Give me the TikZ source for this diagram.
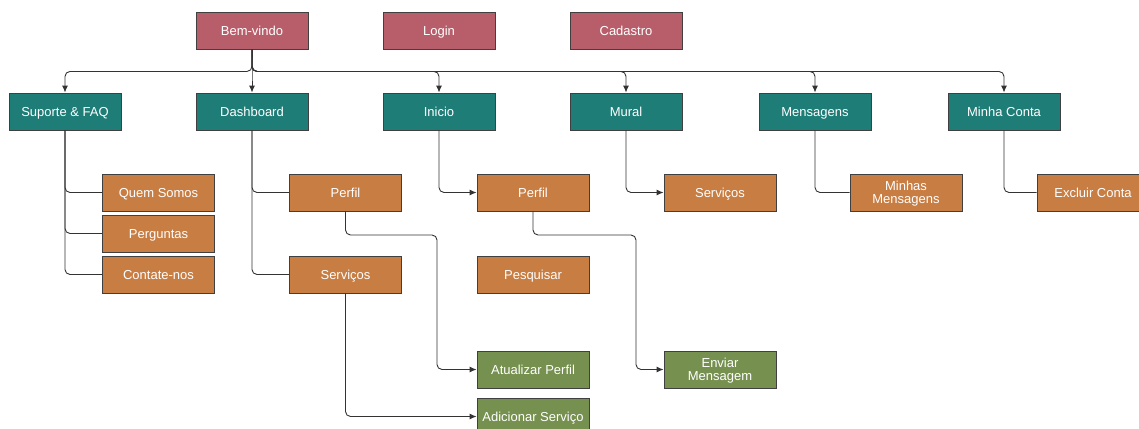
\documentclass[tikz,border=0pt]{standalone}
\usepackage{fontspec}
\setmainfont{Liberation Sans}
\usetikzlibrary{arrows.meta}
\definecolor{rosa}{HTML}{B85E6B}
\definecolor{verdeagua}{HTML}{1F7D77}
\definecolor{laranja}{HTML}{C87D43}
\definecolor{oliva}{HTML}{76904F}
\begin{document}
\begin{tikzpicture}[x=1pt, y=-1pt, every node/.style={font=\fontsize{13}{13.5}\selectfont},
  caixa/.style={draw=black!75, line width=0.9pt, text=white, minimum width=112pt, minimum height=37pt,
    inner sep=1pt, align=center, text height=10.3pt, text depth=1pt},
  duas/.style={text height=23.8pt},
  topo/.style={caixa, fill=rosa}, menu/.style={caixa, fill=verdeagua},
  pagina/.style={caixa, fill=laranja}, acao/.style={caixa, fill=oliva},
  liga/.style={draw=black!80, line width=0.9pt, rounded corners=5pt},
  seta/.style={liga, -{Latex[length=7pt,width=6pt]}}]
  \useasboundingbox (0,0) rectangle (1139,428);
  \node[topo] (bem) at (252,30.5) {Bem-vindo};
  \node[topo] (login) at (439,30.5) {Login};
  \node[topo] (cad) at (626,30.5) {Cadastro};
  \node[menu] (sup) at (65,111.5) {Suporte \& FAQ};
  \node[menu] (dash) at (252,111.5) {Dashboard};
  \node[menu] (ini) at (439,111.5) {Inicio};
  \node[menu] (mural) at (626,111.5) {Mural};
  \node[menu] (msg) at (815,111.5) {Mensagens};
  \node[menu] (conta) at (1004,111.5) {Minha Conta};
  \node[pagina] (quem) at (158.5,192.5) {Quem Somos};
  \node[pagina] (perg) at (158.5,233.5) {Perguntas};
  \node[pagina] (cont) at (158.5,274.5) {Contate-nos};
  \node[pagina] (perfilD) at (345.5,192.5) {Perfil};
  \node[pagina] (servD) at (345.5,274.5) {Serviços};
  \node[pagina] (perfilI) at (533,192.5) {Perfil};
  \node[pagina] (pesq) at (533,274.5) {Pesquisar};
  \node[pagina] (servM) at (720,192.5) {Serviços};
  \node[pagina, duas] (minhas) at (906,192.5) {Minhas\\Mensagens};
  \node[pagina] (excluir) at (1093,192.5) {Excluir Conta};
  \node[acao] (atual) at (533,369.5) {Atualizar Perfil};
  \node[acao] (adic) at (533,416.5) {Adicionar Serviço};
  \node[acao, duas] (enviar) at (720,369.5) {Enviar\\Mensagem};
  \coordinate (dobraD) at (437,235);
  \coordinate (dobraI) at (636,235);
  \foreach \alvo in {sup,dash,ini,mural,msg,conta}
    \draw[seta] (bem.south) -- ++(0,22) -| (\alvo.north);
  \foreach \alvo in {quem,perg,cont}
    \draw[liga] (sup.south) |- (\alvo.west);
  \draw[liga] (dash.south) |- (perfilD.west);
  \draw[liga] (dash.south) |- (servD.west);
  \draw[seta] (ini.south) |- (perfilI.west);
  \draw[seta] (mural.south) |- (servM.west);
  \draw[liga] (msg.south) |- (minhas.west);
  \draw[liga] (conta.south) |- (excluir.west);
  \draw[seta] (perfilD.south) |- (dobraD) |- (atual.west);
  \draw[seta] (servD.south) |- (adic.west);
  \draw[seta] (perfilI.south) |- (dobraI) |- (enviar.west);
\end{tikzpicture}
\end{document}
